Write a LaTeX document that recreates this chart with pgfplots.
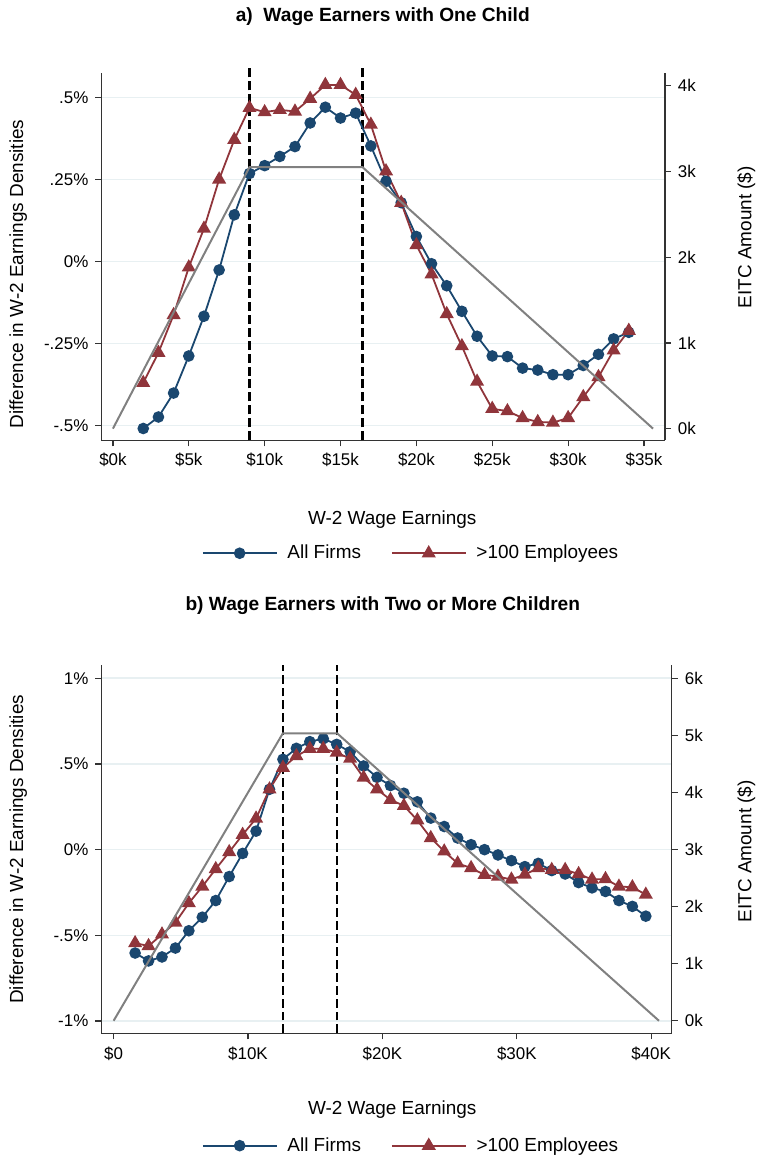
\documentclass[border=0pt]{standalone}
\usepackage{fontspec}
\setmainfont{Liberation Sans}
\usepackage{pgfplots}
\pgfplotsset{compat=1.18}

\definecolor{navy}{RGB}{26,71,111}
\definecolor{maroon}{RGB}{144,53,59}
\definecolor{gridc}{RGB}{232,240,242}
\definecolor{eitc}{RGB}{128,128,128}

\pgfplotsset{
  panel/.style={
    scale only axis, anchor=south west,
    axis line style={black!80, line width=0.6pt},
    tick style={black!80, line width=0.6pt},
    major tick length=3pt, tick align=outside,
    ticklabel style={font=\fontsize{8.5}{10}\selectfont},
  },
  leftpanel/.style={
    panel, clip=false,
    axis x line*=bottom, axis y line*=left,
    ymajorgrids, grid style={gridc, line width=0.8pt},
    legend columns=2,
    legend cell align=left,
    legend style={draw=none, fill=none, font=\fontsize{9.5}{11}\selectfont,
      /tikz/every odd column/.append style={column sep=3pt},
      /tikz/every even column/.append style={column sep=13pt}},
    legend image code/.code={\draw[mark repeat=2,mark phase=2,##1]
      plot coordinates {(0pt,0pt) (18.5pt,0pt) (37pt,0pt)};},
  },
  rightpanel/.style={
    panel, axis x line=none, axis y line*=right,
  },
  allfirms/.style={navy, line width=0.9pt, mark=*, mark size=2.45pt,
    mark options={solid, fill=navy}},
  bigfirms/.style={maroon, line width=0.9pt, mark=triangle*, mark size=3.2pt,
    mark options={solid, fill=maroon}},
}

\begin{document}
\begin{tikzpicture}
\path (0,0) rectangle (380.5pt,581pt);

% ---------- panel a ----------
\begin{axis}[leftpanel,
  at={(50.85pt,360.15pt)}, width=282.65pt, height=184.35pt,
  xmin=-0.76, xmax=36.38, ymin=-0.545, ymax=0.575,
  xtick={0,5,...,35},
  xticklabels={\$0k,\$5k,\$10k,\$15k,\$20k,\$25k,\$30k,\$35k},
  ytick={-0.5,-0.25,0,0.25,0.5},
  yticklabels={-.5\%,-.25\%,0\%,.25\%,.5\%},
  legend style={at={(axis description cs:0.5512,-0.3073)}, anchor=center},
]
\addplot[black, line width=1.5pt, dash pattern=on 4.5pt off 2pt, forget plot]
  coordinates {(9,-0.545) (9,0.59)};
\addplot[black, line width=1.5pt, dash pattern=on 4.5pt off 2pt, forget plot]
  coordinates {(16.45,-0.545) (16.45,0.59)};
\addplot[allfirms] coordinates {
(2,-0.509) (3,-0.474) (4,-0.401) (5,-0.288) (6,-0.167) (7,-0.026) (8,0.142)
(9,0.268) (10,0.292) (11,0.320) (12,0.350) (13,0.422) (14,0.470) (15,0.437)
(16,0.452) (17,0.352) (18,0.244) (19,0.179) (20,0.076) (21,-0.007) (22,-0.074)
(23,-0.152) (24,-0.228) (25,-0.288) (26,-0.290) (27,-0.325) (28,-0.331)
(29,-0.345) (30,-0.345) (31,-0.317) (32,-0.283) (33,-0.236) (34,-0.216)
};
\addplot[bigfirms] coordinates {
(2,-0.370) (3,-0.278) (4,-0.163) (5,-0.018) (6,0.100) (7,0.250) (8,0.371)
(9,0.468) (10,0.455) (11,0.462) (12,0.457) (13,0.496) (14,0.538) (15,0.538)
(16,0.508) (17,0.417) (18,0.275) (19,0.179) (20,0.050) (21,-0.039) (22,-0.160)
(23,-0.258) (24,-0.366) (25,-0.449) (26,-0.456) (27,-0.477) (28,-0.489)
(29,-0.491) (30,-0.477) (31,-0.413) (32,-0.352) (33,-0.271) (34,-0.211)
};
\legend{All Firms, >100 Employees}
\end{axis}
\begin{axis}[rightpanel,
  at={(50.85pt,360.15pt)}, width=282.65pt, height=184.35pt,
  xmin=-0.76, xmax=36.38, ymin=-0.136, ymax=4.151,
  ytick={0,1,2,3,4}, yticklabels={0k,1k,2k,3k,4k},
]
\addplot[eitc, line width=1pt] coordinates {(0,0) (9,3.05) (16.45,3.05) (35.6,0)};
\end{axis}

% ---------- panel b ----------
\begin{axis}[leftpanel,
  at={(50.85pt,62.65pt)}, width=286.15pt, height=184.7pt,
  xmin=-0.91, xmax=41.54, ymin=-1.072, ymax=1.076,
  xtick={0,10,20,30,40},
  xticklabels={\raisebox{1.5pt}{\$0},\$10K,\$20K,\$30K,\$40K},
  ytick={-1,-0.5,0,0.5,1},
  yticklabels={-1\%,-.5\%,0\%,.5\%,1\%},
  legend style={at={(axis description cs:0.5445,-0.3048)}, anchor=center},
]
\addplot[black, line width=1.15pt, dash pattern=on 4.5pt off 2pt, forget plot]
  coordinates {(12.59,-1.072) (12.59,1.076)};
\addplot[black, line width=1.15pt, dash pattern=on 4.5pt off 2pt, forget plot]
  coordinates {(16.64,-1.072) (16.64,1.076)};
\addplot[allfirms] coordinates {
(1.6,-0.603) (2.6,-0.649) (3.6,-0.626) (4.6,-0.574) (5.6,-0.473) (6.6,-0.394)
(7.6,-0.297) (8.6,-0.157) (9.6,-0.022) (10.6,0.108) (11.6,0.352) (12.6,0.527)
(13.6,0.591) (14.6,0.630) (15.6,0.647) (16.6,0.614) (17.6,0.571) (18.6,0.488)
(19.6,0.422) (20.6,0.374) (21.6,0.329) (22.6,0.279) (23.6,0.184) (24.6,0.135)
(25.6,0.068) (26.6,0.029) (27.6,0.000) (28.6,-0.031) (29.6,-0.064) (30.6,-0.099)
(31.6,-0.080) (32.6,-0.122) (33.6,-0.142) (34.6,-0.192) (35.6,-0.223)
(36.6,-0.244) (37.6,-0.297) (38.6,-0.331) (39.6,-0.388)
};
\addplot[bigfirms] coordinates {
(1.6,-0.545) (2.6,-0.562) (3.6,-0.494) (4.6,-0.425) (5.6,-0.312) (6.6,-0.215)
(7.6,-0.113) (8.6,-0.014) (9.6,0.087) (10.6,0.182) (11.6,0.352) (12.6,0.478)
(13.6,0.546) (14.6,0.589) (15.6,0.589) (16.6,0.566) (17.6,0.531) (18.6,0.420)
(19.6,0.352) (20.6,0.291) (21.6,0.256) (22.6,0.172) (23.6,0.068) (24.6,-0.010)
(25.6,-0.080) (26.6,-0.107) (27.6,-0.147) (28.6,-0.157) (29.6,-0.174)
(30.6,-0.145) (31.6,-0.107) (32.6,-0.118) (33.6,-0.118) (34.6,-0.142)
(35.6,-0.174) (36.6,-0.171) (37.6,-0.215) (38.6,-0.219) (39.6,-0.262)
};
\legend{All Firms, >100 Employees}
\end{axis}
\begin{axis}[rightpanel,
  at={(50.85pt,62.65pt)}, width=286.15pt, height=184.7pt,
  xmin=-0.91, xmax=41.54, ymin=-0.222, ymax=6.236,
  ytick={0,1,2,3,4,5,6}, yticklabels={0k,1k,2k,3k,4k,5k,6k},
]
\addplot[eitc, line width=1pt] coordinates {(0,0) (12.59,5.04) (16.64,5.04) (40.58,0)};
\end{axis}

% ---------- titles and axis labels ----------
\node[font=\bfseries\fontsize{9.6}{11}\selectfont] at (192pt,572.5pt)
  {a)\ \ Wage Earners with One Child};
\node[font=\bfseries\fontsize{9.6}{11}\selectfont] at (192pt,277pt)
  {b) Wage Earners with Two or More Children};
\node[font=\fontsize{9.5}{11}\selectfont] at (196.75pt,320.5pt) {W-2 Wage Earnings};
\node[font=\fontsize{9.5}{11}\selectfont] at (196.75pt,24.5pt) {W-2 Wage Earnings};
\node[font=\fontsize{9.5}{11}\selectfont, rotate=90] at (9.15pt,443.5pt)
  {Difference in W-2 Earnings Densities};
\node[font=\fontsize{9.5}{11}\selectfont, rotate=90] at (9.15pt,155pt)
  {Difference in W-2 Earnings Densities};
\node[font=\fontsize{9.5}{11}\selectfont, rotate=90] at (374.35pt,462pt)
  {EITC Amount (\$)};
\node[font=\fontsize{9.5}{11}\selectfont, rotate=90] at (374.35pt,154pt)
  {EITC Amount (\$)};
\end{tikzpicture}
\end{document}
